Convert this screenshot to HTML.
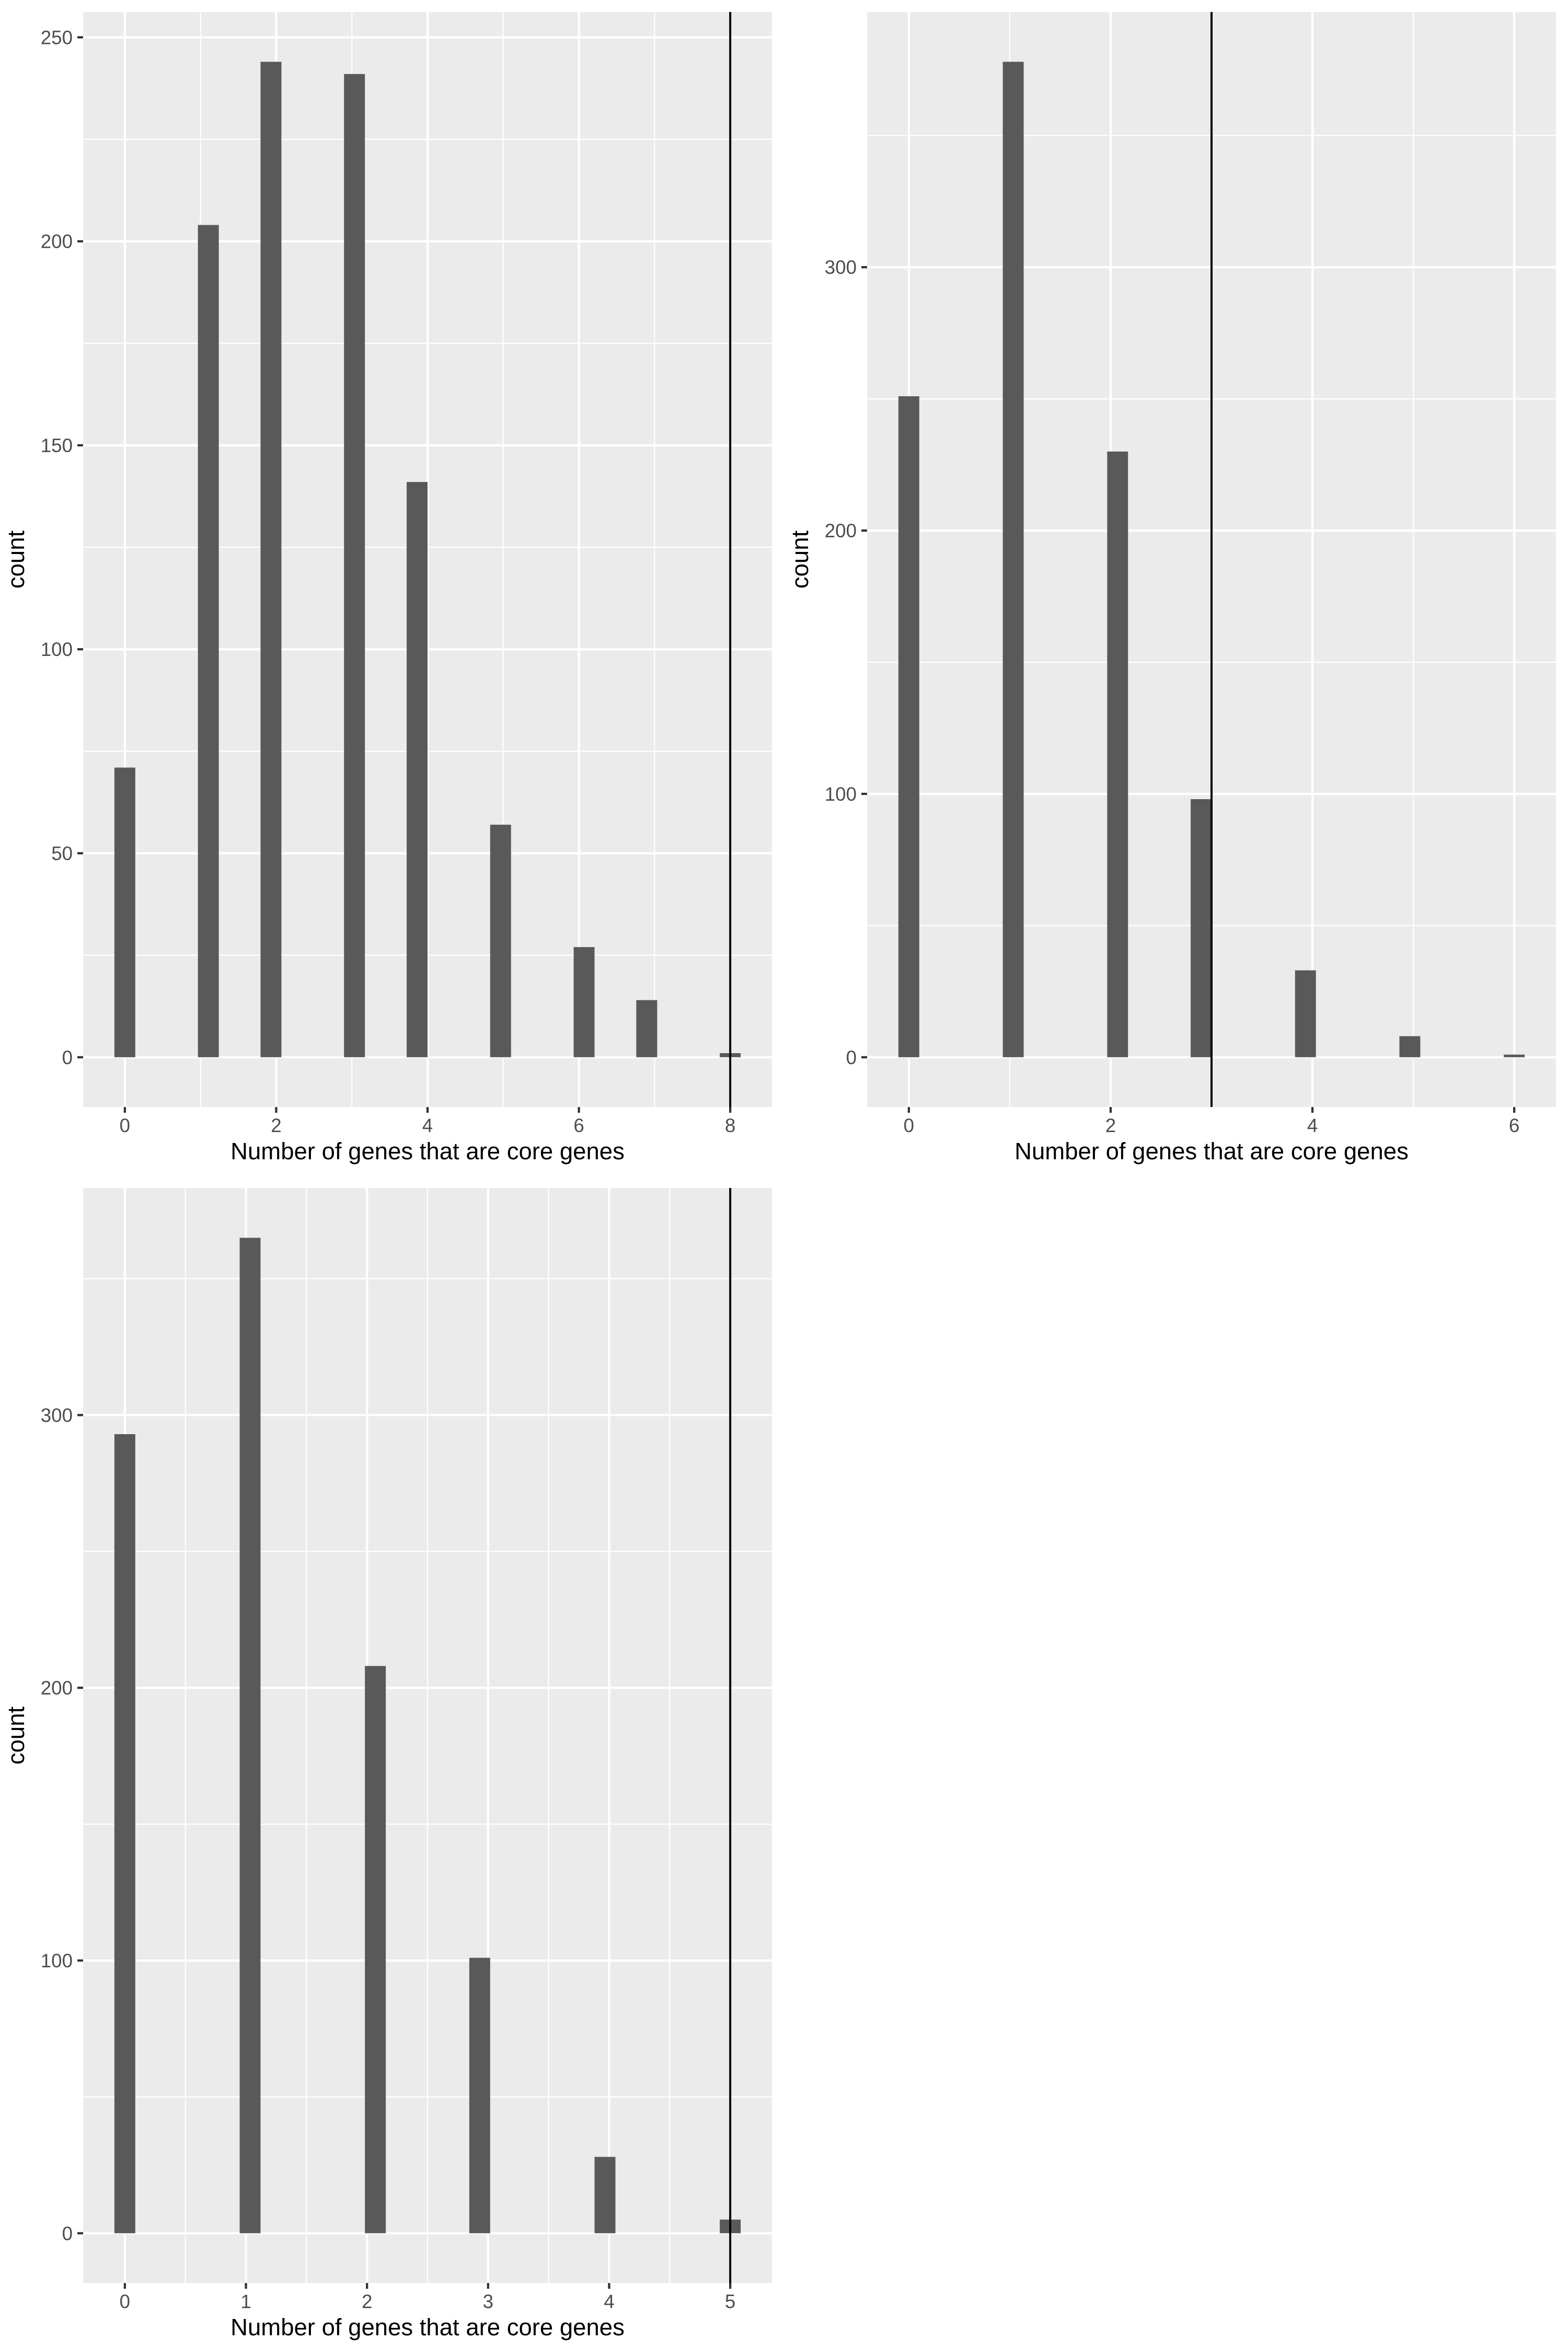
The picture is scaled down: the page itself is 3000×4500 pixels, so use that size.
<!DOCTYPE html>
<html><head><meta charset="utf-8"><style>
html,body{margin:0;padding:0;background:#fff;}
svg{display:block;font-family:"Liberation Sans",Arial,sans-serif;}
</style></head><body>
<svg id="fig" width="3000" height="4500" viewBox="0 0 3000 4500" xmlns="http://www.w3.org/2000/svg"></svg>
<script>
// Panel 1 data
const p1Categories = [0,1,2,3,4,5,6,7,8];
const p1Counts = [71,204,244,241,141,57,27,14,1];
const p1XTicks = [0,2,4,6,8];
const p1YTicks = [0,50,100,150,200,250];
const p1VLine = 8;
// Panel 2 data
const p2Categories = [0,1,2,3,4,5,6];
const p2Counts = [251,378,230,98,33,8,1];
const p2XTicks = [0,2,4,6];
const p2YTicks = [0,100,200,300];
const p2VLine = 3;
// Panel 3 data
const p3Categories = [0,1,2,3,4,5];
const p3Counts = [293,365,208,101,28,5];
const p3XTicks = [0,1,2,3,4,5];
const p3YTicks = [0,100,200,300];
const p3VLine = 5;

const NS = "http://www.w3.org/2000/svg";
const svg = document.getElementById('fig');
function mk(tag, attrs, parent){
  const e = document.createElementNS(NS, tag);
  for (const k in attrs) e.setAttribute(k, attrs[k]);
  (parent||svg).appendChild(e);
  return e;
}

function panel(name, box, cats, counts, xticks, yticks, vline){
  const g = mk('g', {});
  
  
  const xmin = Math.min(...cats), xmax = Math.max(...cats);
  const w = (xmax - xmin) / 29;
  const lo = xmin - w/2, hi = xmax + w/2, span = hi - lo;
  const dx0 = lo - span*0.05, dx1 = hi + span*0.05;
  const ymax = Math.max(...counts);
  const dy0 = -ymax*0.05, dy1 = ymax*1.05;
  const X = v => box.l + (v - dx0) / (dx1 - dx0) * (box.r - box.l);
  const Y = v => box.b - (v - dy0) / (dy1 - dy0) * (box.b - box.t);

  const bg = mk('rect', {x:box.l, y:box.t, width:box.r-box.l, height:box.b-box.t, fill:'#ebebeb'}, g);
  
  

  const ystep = yticks[1]-yticks[0];
  for (let v = yticks[0]-ystep/2; v <= dy1; v += ystep){
    if (v < dy0) continue;
    const l = mk('line', {x1:box.l, x2:box.r, y1:Y(v), y2:Y(v), stroke:'#fff', 'stroke-width':2.2}, g);
    
    
  }
  const xstep = xticks[1]-xticks[0];
  for (let v = xticks[0]-xstep/2; v <= dx1; v += xstep){
    if (v < dx0) continue;
    const l = mk('line', {y1:box.t, y2:box.b, x1:X(v), x2:X(v), stroke:'#fff', 'stroke-width':2.2}, g);
    
    
  }
  yticks.forEach(v => {
    const l = mk('line', {x1:box.l, x2:box.r, y1:Y(v), y2:Y(v), stroke:'#fff', 'stroke-width':4.3}, g);
    
    
    const t = mk('line', {x1:box.l-11, x2:box.l, y1:Y(v), y2:Y(v), stroke:'#333', 'stroke-width':4.3}, g);
    
    
    const tx = mk('text', {x:box.l-20, y:Y(v)+13, 'text-anchor':'end', 'font-size':36.7, fill:'#4d4d4d'}, g);
    tx.textContent = v;
    
    
  });
  xticks.forEach(v => {
    const l = mk('line', {y1:box.t, y2:box.b, x1:X(v), x2:X(v), stroke:'#fff', 'stroke-width':4.3}, g);
    
    
    const t = mk('line', {y1:box.b, y2:box.b+11, x1:X(v), x2:X(v), stroke:'#333', 'stroke-width':4.3}, g);
    
    
    const tx = mk('text', {x:X(v), y:box.b+48, 'text-anchor':'middle', 'font-size':36.7, fill:'#4d4d4d'}, g);
    tx.textContent = v;
    
    
  });
  cats.forEach((c, i) => {
    const k = Math.ceil((c - xmin)/w - 0.5 - 1e-9);
    const center = xmin + k*w;
    const r = mk('rect', {x:X(center - w/2), width:X(center + w/2)-X(center - w/2), y:Y(counts[i]), height:Y(0)-Y(counts[i]), fill:'#595959'}, g);
    
    
  });
  const vl = mk('line', {x1:X(vline), x2:X(vline), y1:box.t, y2:box.b, stroke:'#000', 'stroke-width':4}, g);
  
  
  const xt = mk('text', {x:(box.l+box.r)/2, y:box.b+100, 'text-anchor':'middle', 'font-size':45.5, fill:'#000'}, g);
  xt.textContent = 'Number of genes that are core genes';
  
  
  const cy = (box.t+box.b)/2, cx = box.l - 113;
  const yt = mk('text', {x:cx, y:cy, 'text-anchor':'middle', 'font-size':45.5, fill:'#000', transform:`rotate(-90 ${cx} ${cy})`}, g);
  yt.textContent = 'count';
  
  
}

panel('panel-top-left', {l:159, r:1477, t:23, b:2118}, p1Categories, p1Counts, p1XTicks, p1YTicks, p1VLine);
panel('panel-top-right', {l:1659, r:2977, t:23, b:2118}, p2Categories, p2Counts, p2XTicks, p2YTicks, p2VLine);
panel('panel-bottom-left', {l:159, r:1477, t:2273, b:4368}, p3Categories, p3Counts, p3XTicks, p3YTicks, p3VLine);
</script>
</body></html>
